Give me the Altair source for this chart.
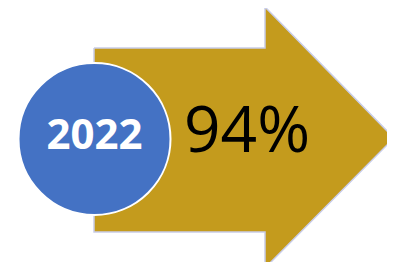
import altair as alt
import pandas as pd

# Content
years = ["2022"]
values = [94]

# Arrow outline vertices (screen-like coordinates, y downward)
arrow_x = [94, 265, 265, 394, 265, 265, 94, 94]
arrow_y = [48, 48, 7, 138, 268, 232, 232, 48]

W, H = 379, 254
xs = alt.Scale(domain=[8, 8 + W], range=[0, W])
ys = alt.Scale(domain=[8, 8 + H], range=[0, H])

arrow_df = pd.DataFrame({"x": arrow_x, "y": arrow_y, "o": list(range(len(arrow_x)))})
arrow = alt.Chart(arrow_df).mark_line(
    fill="#C49B1D", stroke="#C9CDE8", strokeWidth=1.5, interpolate="linear", clip=False
).encode(
    x=alt.X("x:Q", scale=xs, axis=None),
    y=alt.Y("y:Q", scale=ys, axis=None),
    order="o:Q",
)

circ_df = pd.DataFrame({"year": years, "cx": [94.5], "cy": [139]})
circle = alt.Chart(circ_df).mark_point(
    shape="circle", filled=True, fill="#4472C4", fillOpacity=1,
    stroke="white", strokeWidth=2, size=152 * 152, opacity=1
).encode(
    x=alt.X("cx:Q", scale=xs, axis=None),
    y=alt.Y("cy:Q", scale=ys, axis=None),
)

year_text = alt.Chart(circ_df).mark_text(
    font="Open Sans", fontWeight="bold", fontSize=42, color="white",
    align="center", baseline="middle"
).encode(
    x=alt.X("cx:Q", scale=xs, axis=None),
    y=alt.Y("ty:Q", scale=ys, axis=None),
    text="year:N",
).transform_calculate(ty="datum.cy - 3")

val_df = pd.DataFrame({"v": values, "tx": [247], "ty": [133]})
val_text = alt.Chart(val_df).mark_text(
    font="Open Sans", fontSize=64, color="black",
    align="center", baseline="middle"
).encode(
    x=alt.X("tx:Q", scale=xs, axis=None),
    y=alt.Y("ty:Q", scale=ys, axis=None),
    text="label:N",
).transform_calculate(label="datum.v + '%'")

chart = alt.layer(arrow, circle, year_text, val_text).properties(
    width=W, height=H, padding=0, autosize=alt.AutoSizeParams(type="none"),
    background="white"
).configure_view(stroke=None)

chart.save("out.html", embed_options={"renderer": "svg", "actions": False})
